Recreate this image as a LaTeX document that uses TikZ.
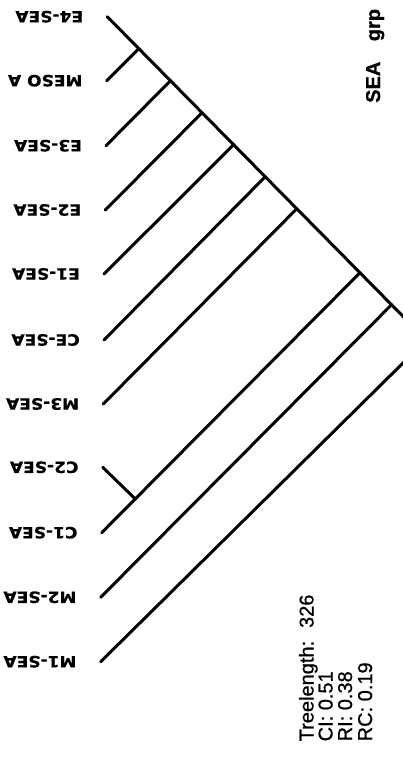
\documentclass[tikz,border=0pt]{standalone}
\usepackage{fontspec}
\setmainfont{Liberation Sans}
\newfontfamily\labfont[FakeStretch=1.1,FakeBold=0.6]{DejaVu Sans}
\newfontfamily\statfont[FakeBold=0.8]{Liberation Sans}
\usetikzlibrary{calc}
\tikzset{
  branch/.style={line width=3pt, line cap=round, black},
  lab/.style={font=\labfont\bfseries\fontsize{15.5}{16}\selectfont, inner sep=0pt, anchor=west, rotate=180},
  stat/.style={font=\statfont\fontsize{20}{22}\selectfont, inner sep=0pt, anchor=base west, rotate=90},
  grp/.style={font=\statfont\bfseries\fontsize{20}{22}\selectfont, inner sep=0pt, anchor=base west, rotate=90}
}
\begin{document}
\begin{tikzpicture}[x=1pt,y=-1pt]
\path[use as bounding box, fill=white] (0,0) rectangle (403,763);
\begin{scope}
\clip (0,0) rectangle (403,763);
% tips
\coordinate (tE4) at (107.3,16.7);
\coordinate (tMESO) at (106.7,80.7);
\coordinate (tE3) at (106,145.7);
\coordinate (tE2) at (105.3,210);
\coordinate (tE1) at (104,274);
\coordinate (tCE) at (104,340);
\coordinate (tM3) at (103.3,404);
\coordinate (tC2) at (102.7,467.3);
\coordinate (tC1) at (101.7,532.7);
\coordinate (tM2) at (100.7,597.3);
\coordinate (tM1) at (100.7,661.7);
\coordinate (root) at (426.3,340);
% internal nodes on the backbone
\coordinate (n1) at ($(tE4)!0.099!(root)$);
\coordinate (n2) at ($(tE4)!0.198!(root)$);
\coordinate (n3) at ($(tE4)!0.297!(root)$);
\coordinate (n4) at ($(tE4)!0.396!(root)$);
\coordinate (n5) at ($(tE4)!0.495!(root)$);
\coordinate (n6) at ($(tE4)!0.594!(root)$);
\coordinate (n8) at ($(tE4)!0.792!(root)$);
\coordinate (n9) at ($(tE4)!0.891!(root)$);
\coordinate (nC) at ($(tC1)!0.13!(n8)$);
% branches
\draw[branch] (tE4) -- (root);
\draw[branch] (tMESO) -- (n1);
\draw[branch] (tE3) -- (n2);
\draw[branch] (tE2) -- (n3);
\draw[branch] (tE1) -- (n4);
\draw[branch] (tCE) -- (n5);
\draw[branch] (tM3) -- (n6);
\draw[branch] (tC1) -- (n8);
\draw[branch] (tC2) -- (nC);
\draw[branch] (tM2) -- (n9);
\draw[branch] (tM1) -- (root);
\end{scope}
% taxon labels (upside down)
\node[lab] (lE4) at ([xshift=-24pt]tE4) {E4-SEA};
\node[lab] (lMESO) at ([xshift=-24pt]tMESO) {MESO A};
\node[lab] (lE3) at ([xshift=-24pt]tE3) {E3-SEA};
\node[lab] (lE2) at ([xshift=-24pt]tE2) {E2-SEA};
\node[lab] (lE1) at ([xshift=-24pt]tE1) {E1-SEA};
\node[lab] (lCE) at ([xshift=-24pt]tCE) {CE-SEA};
\node[lab] (lM3) at ([xshift=-24pt]tM3) {M3-SEA};
\node[lab] (lC2) at ([xshift=-24pt]tC2) {C2-SEA};
\node[lab] (lC1) at ([xshift=-24pt]tC1) {C1-SEA};
\node[lab] (lM2) at ([xshift=-24pt]tM2) {M2-SEA};
\node[lab] (lM1) at ([xshift=-24pt]tM1) {M1-SEA};
% group title
\node[grp] (title) at (380,103) {SEA\hspace{15pt} grp};
% statistics
\node[stat] (s1) at (313.5,741.5) {Treelength:~ 326};
\node[stat] (s2) at (332.5,741.5) {CI: 0.51};
\node[stat] (s3) at (352,741.5) {RI: 0.38};
\node[stat] (s4) at (372,741.5) {RC: 0.19};
\end{tikzpicture}
\end{document}
